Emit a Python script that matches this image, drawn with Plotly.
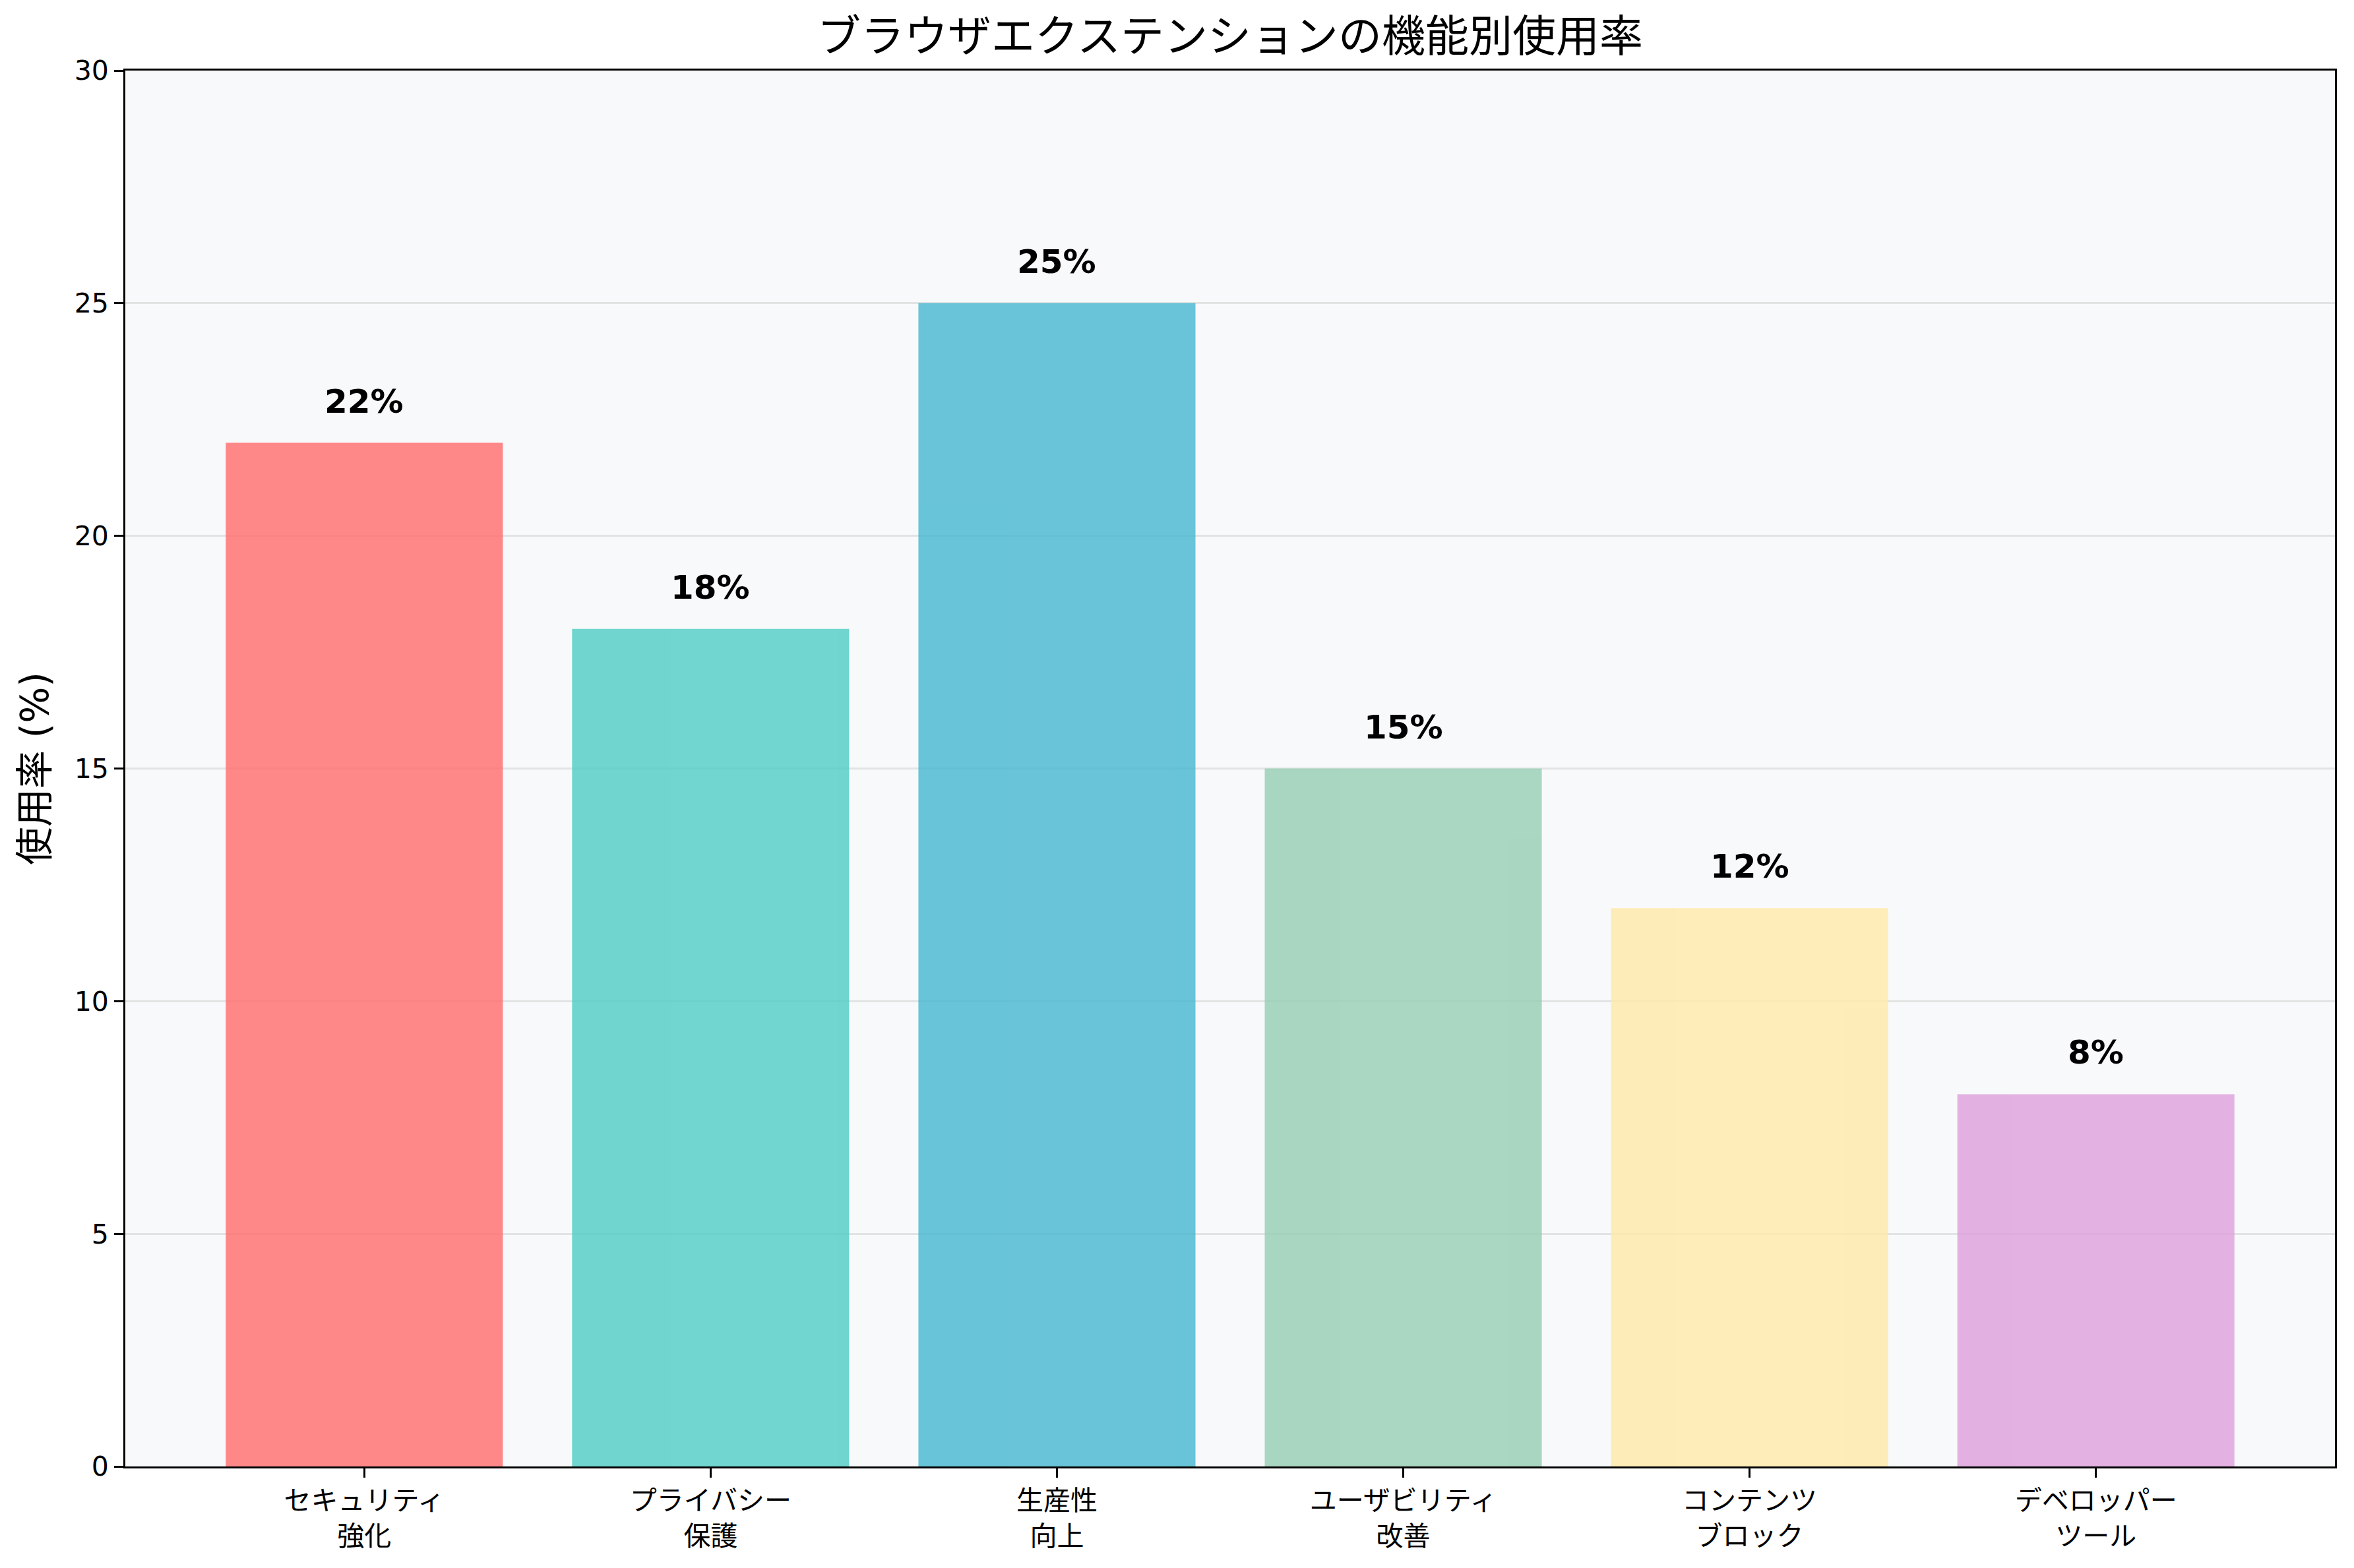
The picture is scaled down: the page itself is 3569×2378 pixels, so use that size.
import plotly.graph_objects as go

# データ
categories = ["セキュリティ<br>強化", "プライバシー<br>保護", "生産性<br>向上",
              "ユーザビリティ<br>改善", "コンテンツ<br>ブロック", "デベロッパー<br>ツール"]
usage_rates = [22, 18, 25, 15, 12, 8]
bar_colors = ["#FF6B6B", "#4ECDC4", "#45B7D1", "#96CEB4", "#FFEAA7", "#DDA0DD"]
y_ticks = [0, 5, 10, 15, 20, 25, 30]

W, H = 3569, 2378
FONT = "DejaVu Sans, Noto Sans CJK JP, sans-serif"
JP_FONT = "Noto Sans CJK JP, DejaVu Sans, sans-serif"

fig = go.Figure()
fig.add_trace(go.Bar(
    x=categories,
    y=usage_rates,
    marker=dict(color=bar_colors, line=dict(width=0)),
    opacity=0.8,
    showlegend=False,
    hoverinfo="skip",
))

# 値ラベル
for cat, val in zip(categories, usage_rates):
    fig.add_annotation(
        x=cat, y=val, text=f"<b>{val}%</b>",
        showarrow=False, yanchor="middle", yshift=63,
        font=dict(family=FONT, size=50, color="black"),
    )

fig.update_layout(
    width=W, height=H,
    margin=dict(l=190, r=29, t=107, b=154),
    paper_bgcolor="white",
    plot_bgcolor="#F8F9FA",
    bargap=0.2,
    title=dict(
        text="ブラウザエクステンションの機能別使用率",
        x=(190 + (W - 29)) / 2 / W, xanchor="center",
        y=1 - 55 / H, yanchor="middle",
        font=dict(family=JP_FONT, size=66, color="black"),
    ),
    font=dict(family=FONT, color="black"),
)

fig.update_xaxes(
    range=[-0.69, 5.69],
    showline=True, linecolor="black", linewidth=3, mirror=True,
    ticks="outside", ticklen=14, tickwidth=3, tickcolor="black",
    tickfont=dict(family=JP_FONT, size=41, color="black"),
    showgrid=False,
)
fig.update_yaxes(
    range=[0, 30],
    tickvals=y_ticks,
    showline=True, linecolor="black", linewidth=3, mirror=True,
    ticks="outside", ticklen=14, tickwidth=3, tickcolor="black",
    tickfont=dict(family="DejaVu Sans", size=41, color="black"),
    showgrid=True, gridcolor="rgba(176,176,176,0.3)", gridwidth=3,
    zeroline=False,
    title=dict(text="使用率 (%)", standoff=21,
               font=dict(family=FONT, size=58, color="black")),
)

# ページ既定の余白を消す
fig.write_html("out.html", config={"displayModeBar": False},
               post_script="document.body.style.margin='0';")
